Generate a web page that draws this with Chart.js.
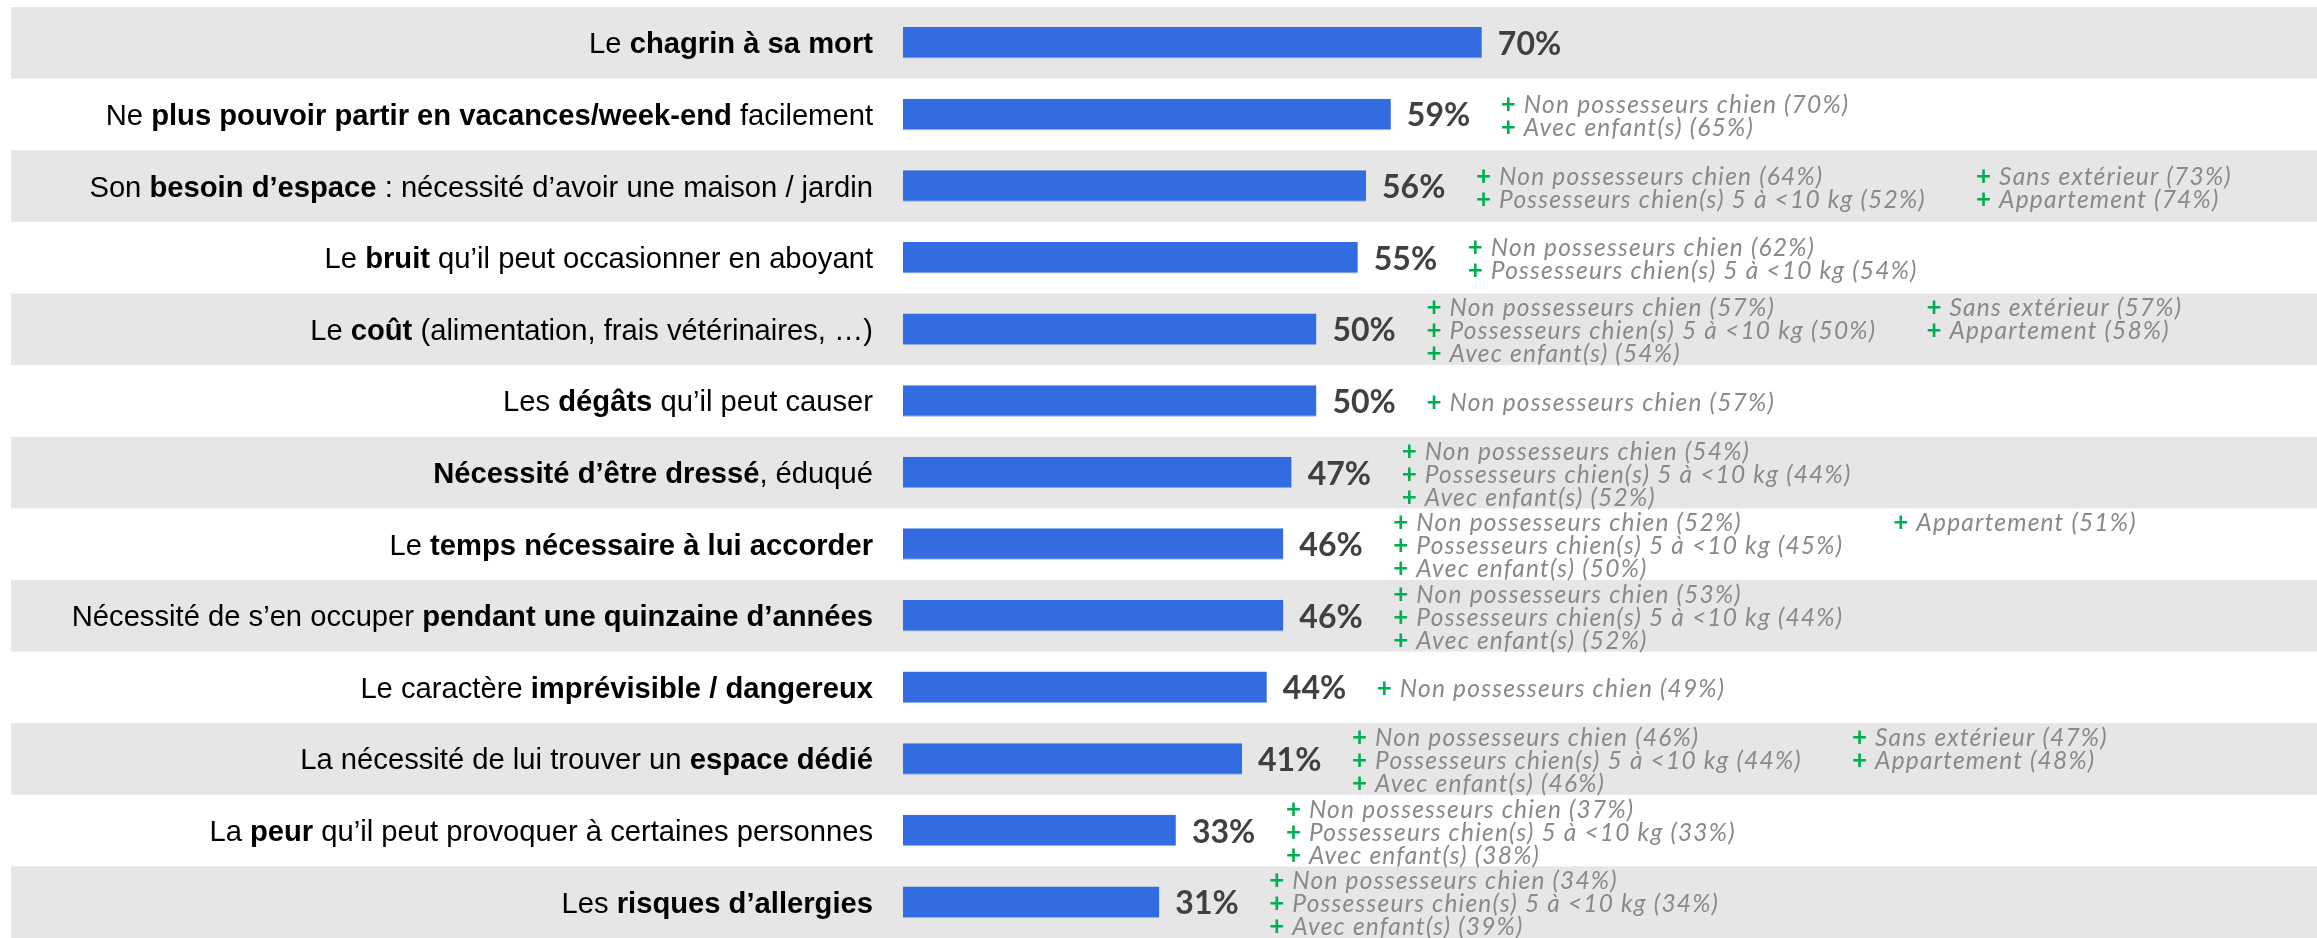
<!DOCTYPE html>
<html>
<head>
<meta charset="utf-8">
<script src="https://cdn.jsdelivr.net/npm/chart.js@4/dist/chart.umd.min.js"></script>
<style>
    html, body { margin: 0; padding: 0; background: #fff; }
    #wrap { width: 2317px; height: 938px; }
</style>
</head>
<body>
<div id="wrap"><canvas id="chart" width="2317" height="938"></canvas></div>
<script>
const categories = [
    'Le chagrin à sa mort',
    'Ne plus pouvoir partir en vacances/week-end facilement',
    'Son besoin d’espace : nécessité d’avoir une maison / jardin',
    'Le bruit qu’il peut occasionner en aboyant',
    'Le coût (alimentation, frais vétérinaires, …)',
    'Les dégâts qu’il peut causer',
    'Nécessité d’être dressé, éduqué',
    'Le temps nécessaire à lui accorder',
    'Nécessité de s’en occuper pendant une quinzaine d’années',
    'Le caractère imprévisible / dangereux',
    'La nécessité de lui trouver un espace dédié',
    'La peur qu’il peut provoquer à certaines personnes',
    'Les risques d’allergies'
]
// part of each label written in bold
const emphasis = [
    'chagrin à sa mort',
    'plus pouvoir partir en vacances/week-end',
    'besoin d’espace',
    'bruit',
    'coût',
    'dégâts',
    'Nécessité d’être dressé',
    'temps nécessaire à lui accorder',
    'pendant une quinzaine d’années',
    'imprévisible / dangereux',
    'espace dédié',
    'peur',
    'risques d’allergies'
]
const values = [ 70, 59, 56, 55, 50, 50, 47, 46, 46, 44, 41, 33, 31 ]

// sub-group scores shown next to the bars (null = not shown)
const nonOwners = [ null, 70, 64, 62, 57, 57, 54, 52, 53, 49, 46, 37, 34 ]
const owners5to10 = [ null, null, 52, 54, 50, null, 44, 45, 44, null, 44, 33, 34 ]
const withChildren = [ null, 65, null, null, 54, null, 52, 50, 52, null, 46, 38, 39 ]
const noOutdoor = [ null, null, 73, null, 57, null, null, null, null, null, 47, null, null ]
const apartment = [ null, null, 74, null, 58, null, null, 51, null, null, 48, null, null ]

const LABEL_FONT = 'Liberation Sans, Arial, sans-serif'
const VALUE_FONT = 'Lato, sans-serif'

function col1Lines ( i ) {
    const out = []
    if ( nonOwners[ i ] !== null ) out.push( `Non possesseurs chien (${ nonOwners[ i ] }%)` )
    if ( owners5to10[ i ] !== null ) out.push( `Possesseurs chien(s) 5 à <10 kg (${ owners5to10[ i ] }%)` )
    if ( withChildren[ i ] !== null ) out.push( `Avec enfant(s) (${ withChildren[ i ] }%)` )
    return out
}

function col2Lines ( i ) {
    const out = []
    if ( noOutdoor[ i ] !== null ) out.push( `Sans extérieur (${ noOutdoor[ i ] }%)` )
    if ( apartment[ i ] !== null ) out.push( `Appartement (${ apartment[ i ] }%)` )
    return out
}

const bandsPlugin = {
    id: 'bands',
    beforeDatasetsDraw ( chart ) {
        const { ctx, chartArea, scales: { y } } = chart
        const step = ( chartArea.bottom - chartArea.top ) / categories.length
        ctx.save()
        ctx.fillStyle = '#e6e6e6'
        categories.forEach( ( c, i ) => {
            if ( i % 2 !== 0 ) return
            const cy = y.getPixelForValue( i )
            ctx.fillRect( 11, cy - step / 2, chart.width - 11, step )
        } )
        ctx.restore()
    }
}

const textPlugin = {
    id: 'texts',
    afterDatasetsDraw ( chart ) {
        const { ctx, chartArea, scales: { x, y } } = chart
        ctx.save()
        ctx.textBaseline = 'alphabetic'
        categories.forEach( ( label, i ) => {
            const cy = y.getPixelForValue( i )

            // category label, right aligned, bold part inside
            const k = label.indexOf( emphasis[ i ] )
            const parts = [
                [ label.slice( 0, k ), false ],
                [ emphasis[ i ], true ],
                [ label.slice( k + emphasis[ i ].length ), false ]
            ]
            let total = 0
            parts.forEach( p => {
                ctx.font = ( p[ 1 ] ? 'bold ' : '' ) + '29.2px ' + LABEL_FONT
                total += ctx.measureText( p[ 0 ] ).width
            } )
            let tx = chartArea.left - 30 - total
            ctx.fillStyle = '#000'
            ctx.textAlign = 'left'
            parts.forEach( p => {
                ctx.font = ( p[ 1 ] ? 'bold ' : '' ) + '29.2px ' + LABEL_FONT
                ctx.fillText( p[ 0 ], tx, cy + 10.5 )
                tx += ctx.measureText( p[ 0 ] ).width
            } )

            // value
            const barEnd = x.getPixelForValue( values[ i ] )
            ctx.font = 'bold 32px ' + VALUE_FONT
            ctx.fillStyle = '#404040'
            ctx.fillText( values[ i ] + '%', barEnd + 16, cy + 12 )

            // sub-group annotations
            const c1 = col1Lines( i )
            const c2 = col2Lines( i )
            const lh = 23
            const top = cy + 2 - ( c1.length - 1 ) / 2 * lh
            const x1 = barEnd + 110
            const drawLine = ( txt, lx, ly ) => {
                ctx.letterSpacing = '0px'
                ctx.font = 'bold 26px ' + VALUE_FONT
                ctx.fillStyle = '#00b050'
                ctx.fillText( '+', lx, ly + 8 )
                ctx.font = 'italic 24.5px ' + VALUE_FONT
                ctx.letterSpacing = '1.2px'
                ctx.fillStyle = '#898989'
                ctx.fillText( txt, lx + 23, ly + 8 )
                ctx.letterSpacing = '0px'
            }
            c1.forEach( ( t, j ) => drawLine( t, x1, top + j * lh ) )
            c2.forEach( ( t, j ) => drawLine( t, x1 + 500, top + j * lh ) )
        } )
        ctx.restore()
    }
}

new Chart( document.getElementById( 'chart' ), {
    type: 'bar',
    data: {
        labels: categories,
        datasets: [ {
            data: values,
            backgroundColor: '#326ce0',
            borderColor: '#8fb0ee',
            borderWidth: { bottom: 1 },
            borderSkipped: false,
            categoryPercentage: 1,
            barPercentage: 0.44
        } ]
    },
    options: {
        indexAxis: 'y',
        responsive: false,
        animation: false,
        layout: { padding: { left: 903, top: 7, right: 0, bottom: 0 } },
        scales: {
            x: { min: 0, max: 171, display: false },
            y: { display: false }
        },
        plugins: {
            legend: { display: false },
            tooltip: { enabled: false }
        }
    },
    plugins: [ bandsPlugin, textPlugin ]
} )
</script>
</body>
</html>
